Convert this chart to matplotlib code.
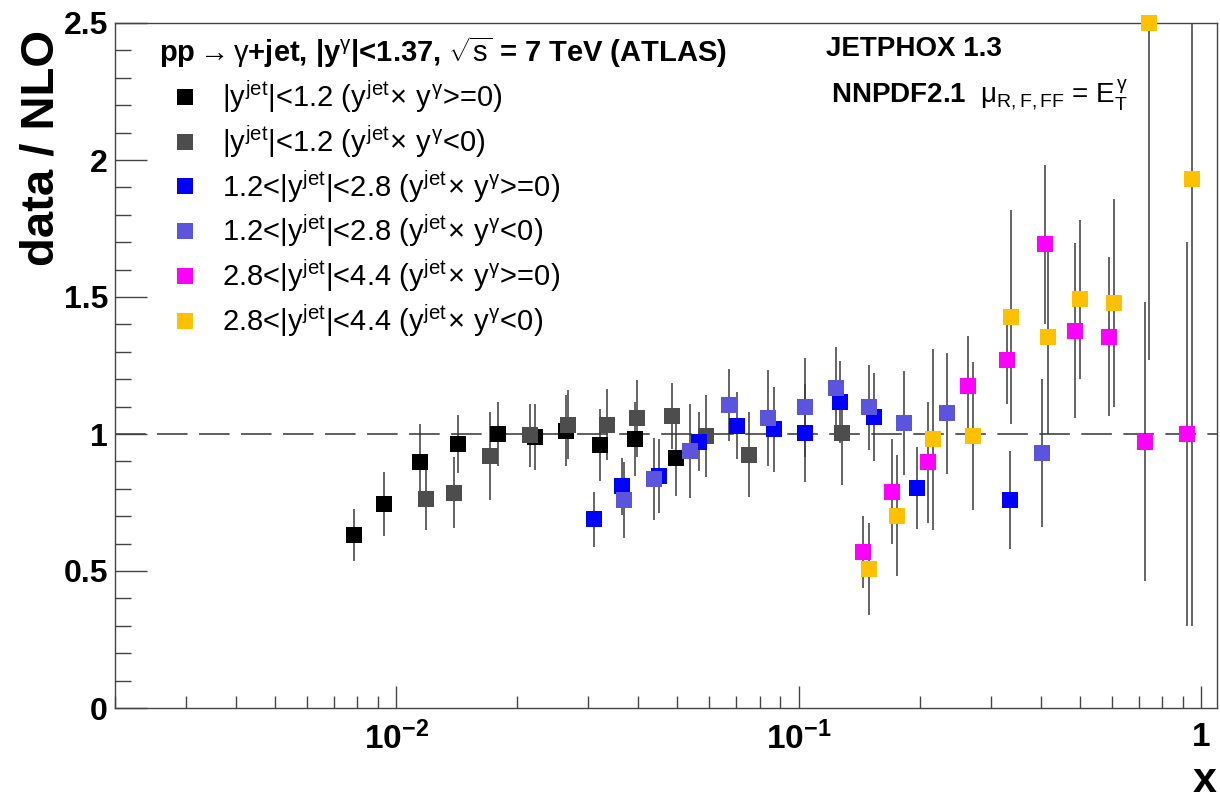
import matplotlib
matplotlib.use("Agg")
import matplotlib.pyplot as plt
from matplotlib.ticker import FixedLocator, MultipleLocator, NullFormatter

plt.rcParams['font.family'] = ['Liberation Sans', 'DejaVu Sans']
plt.rcParams['mathtext.fontset'] = 'custom'
plt.rcParams['mathtext.rm'] = 'Liberation Sans'
plt.rcParams['mathtext.it'] = 'Liberation Sans'
plt.rcParams['mathtext.bf'] = 'Liberation Sans:bold'
plt.rcParams['mathtext.sf'] = 'Liberation Sans'

# ---------------- data ----------------
labels = [
    r'$|y^{jet}|$<1.2 ($y^{jet}\!\times\, y^{\gamma}$>=0)',
    r'$|y^{jet}|$<1.2 ($y^{jet}\!\times\, y^{\gamma}$<0)',
    r'1.2<$|y^{jet}|$<2.8 ($y^{jet}\!\times\, y^{\gamma}$>=0)',
    r'1.2<$|y^{jet}|$<2.8 ($y^{jet}\!\times\, y^{\gamma}$<0)',
    r'2.8<$|y^{jet}|$<4.4 ($y^{jet}\!\times\, y^{\gamma}$>=0)',
    r'2.8<$|y^{jet}|$<4.4 ($y^{jet}\!\times\, y^{\gamma}$<0)',
]
colors = ['#000000', '#4d4d4d', '#0000ff', '#5a55dc', '#ff00ff', '#ffc000']

x_c1_pos = [0.00784, 0.00931, 0.01144, 0.01425, 0.01787, 0.02208, 0.02642, 0.03202, 0.03913, 0.04966]
r_c1_pos = [0.631, 0.745, 0.897, 0.963, 1.000, 0.990, 1.012, 0.960, 0.983, 0.911]
e_c1_pos = [0.095, 0.116, 0.14, 0.106, 0.117, 0.12, 0.13, 0.13, 0.135, 0.137]

x_c1_neg = [0.01187, 0.01395, 0.01714, 0.02154, 0.02673, 0.03341, 0.03966, 0.04845, 0.05896, 0.07508, 0.1281]
r_c1_neg = [0.764, 0.786, 0.920, 0.995, 1.034, 1.034, 1.057, 1.067, 0.994, 0.925, 1.005]
e_c1_neg = [0.113, 0.13, 0.16, 0.115, 0.126, 0.13, 0.14, 0.12, 0.15, 0.156, 0.19]

x_c2_pos = [0.03095, 0.03646, 0.04487, 0.05665, 0.07027, 0.08664, 0.1038, 0.1264, 0.1541, 0.1967, 0.3354]
r_c2_pos = [0.689, 0.809, 0.848, 0.972, 1.030, 1.017, 1.003, 1.118, 1.061, 0.804, 0.759]
e_c2_pos = [0.10, 0.105, 0.135, 0.107, 0.122, 0.156, 0.18, 0.15, 0.16, 0.15, 0.18]

x_c2_neg = [0.03678, 0.04361, 0.05358, 0.06697, 0.08372, 0.1037, 0.1242, 0.1500, 0.1832, 0.2335, 0.4021]
r_c2_neg = [0.759, 0.836, 0.938, 1.106, 1.057, 1.097, 1.168, 1.097, 1.039, 1.075, 0.929]
e_c2_neg = [0.14, 0.15, 0.17, 0.13, 0.175, 0.18, 0.15, 0.155, 0.19, 0.22, 0.27]

x_c3_pos = [0.1449, 0.1710, 0.2102, 0.2642, 0.3292, 0.4098, 0.4864, 0.5919, 0.7260, 0.9215]
r_c3_pos = [0.569, 0.790, 0.897, 1.176, 1.270, 1.692, 1.377, 1.355, 0.972, 1.000]
e_c3_pos = [0.13, 0.19, 0.22, 0.18, 0.16, 0.29, 0.32, 0.29, 0.51, 0.70]

x_c3_neg = [0.1492, 0.1759, 0.2163, 0.2710, 0.3374, 0.4176, 0.5005, 0.6090, 0.7436, 0.9482]
r_c3_neg = [0.507, 0.702, 0.981, 0.994, 1.428, 1.355, 1.492, 1.479, 2.5, 1.931]
e_c3_neg = [0.168, 0.22, 0.33, 0.27, 0.39, 0.354, 0.29, 0.38, 1.23, 1.63]

series = [
    (x_c1_pos, r_c1_pos, e_c1_pos),
    (x_c1_neg, r_c1_neg, e_c1_neg),
    (x_c2_pos, r_c2_pos, e_c2_pos),
    (x_c2_neg, r_c2_neg, e_c2_neg),
    (x_c3_pos, r_c3_pos, e_c3_pos),
    (x_c3_neg, r_c3_neg, e_c3_neg),
]

legend_title = r'pp$\rightarrow\gamma$+jet, |y$^{\gamma}$|<1.37, $\sqrt{\rm s}$ = 7 TeV (ATLAS)'
y_ticks = [0, 0.5, 1, 1.5, 2, 2.5]
y_ticklabels = ['0', '0.5', '1', '1.5', '2', '2.5']
x_ticks = [0.01, 0.1, 1]
x_ticklabels = [r'$\mathbf{10^{-2}}$', r'$\mathbf{10^{-1}}$', '1']

# ---------------- figure ----------------
W, H = 1220, 802
fig = plt.figure(figsize=(W / 100, H / 100), dpi=100)
ax = fig.add_axes([115 / W, 1 - 708 / H, (1217 - 115) / W, (708 - 23) / H])

ax.set_xscale('log')
ax.set_xlim(0.002, 1.096)
ax.set_ylim(0, 2.5)

ax.axhline(1.0, color='#333333', lw=1.1, dashes=(20, 7.5), zorder=1)

handles = []
for (xs, ys, es), c in zip(series, colors):
    cont = ax.errorbar(xs, ys, yerr=es, fmt='s', ms=12, mfc=c, mec=c, mew=0,
                       ecolor='#3a3a3a', elinewidth=1.1, capsize=0, zorder=3)
    cont[0].set_clip_on(False)
    handles.append(cont[0])

for s in ax.spines.values():
    s.set_color('#444444')
    s.set_linewidth(1.0)

ax.yaxis.set_major_locator(FixedLocator(y_ticks))
ax.set_yticklabels(y_ticklabels)
ax.yaxis.set_minor_locator(MultipleLocator(0.1))
ax.xaxis.set_major_locator(FixedLocator(x_ticks))
ax.set_xticklabels(x_ticklabels)
ax.xaxis.set_minor_locator(FixedLocator(
    [m * 10.0 ** e for e in (-3, -2, -1) for m in range(2, 10)]))
ax.xaxis.set_minor_formatter(NullFormatter())

ax.tick_params(axis='y', which='major', direction='in', length=23, width=1.0,
               color='#444444', labelsize=23, pad=5)
ax.tick_params(axis='y', which='minor', direction='in', length=11.5, width=1.0,
               color='#444444')
ax.tick_params(axis='x', which='major', direction='in', length=16, width=1.0,
               color='#444444', labelsize=24, pad=10)
ax.tick_params(axis='x', which='minor', direction='in', length=8.5, width=1.0,
               color='#444444')
for lab in ax.get_xticklabels() + ax.get_yticklabels():
    lab.set_fontweight('bold')

ax.set_ylabel('data / NLO', fontsize=34, fontweight='bold')
ax.yaxis.set_label_coords(-0.047, 0.99)
ax.yaxis.label.set_horizontalalignment('right')
ax.set_xlabel('x', fontsize=31, fontweight='bold')
ax.xaxis.set_label_coords(1.0, -(801 - 708) / 685)
ax.xaxis.label.set_horizontalalignment('right')
ax.xaxis.label.set_verticalalignment('bottom')

leg = ax.legend(handles, labels, loc='upper left', bbox_to_anchor=(0.040, 0.983),
                frameon=False, fontsize=21, title=legend_title,
                title_fontproperties={'size': 21, 'weight': 'bold'},
                alignment='left', handlelength=1.75, handletextpad=0.42,
                labelspacing=0.28, borderpad=0, borderaxespad=0, markerscale=1.0)

ax.text(0.645, 0.962, 'JETPHOX 1.3', transform=ax.transAxes, fontsize=20,
        fontweight='bold', ha='left', va='center')
ax.text(0.650, 0.894, r'$\mathbf{NNPDF2.1}$  $\mu_{R,F,FF}$ = $E_{T}^{\gamma}$',
        transform=ax.transAxes, fontsize=20, ha='left', va='center')

fig.savefig('out.png', dpi=100)
